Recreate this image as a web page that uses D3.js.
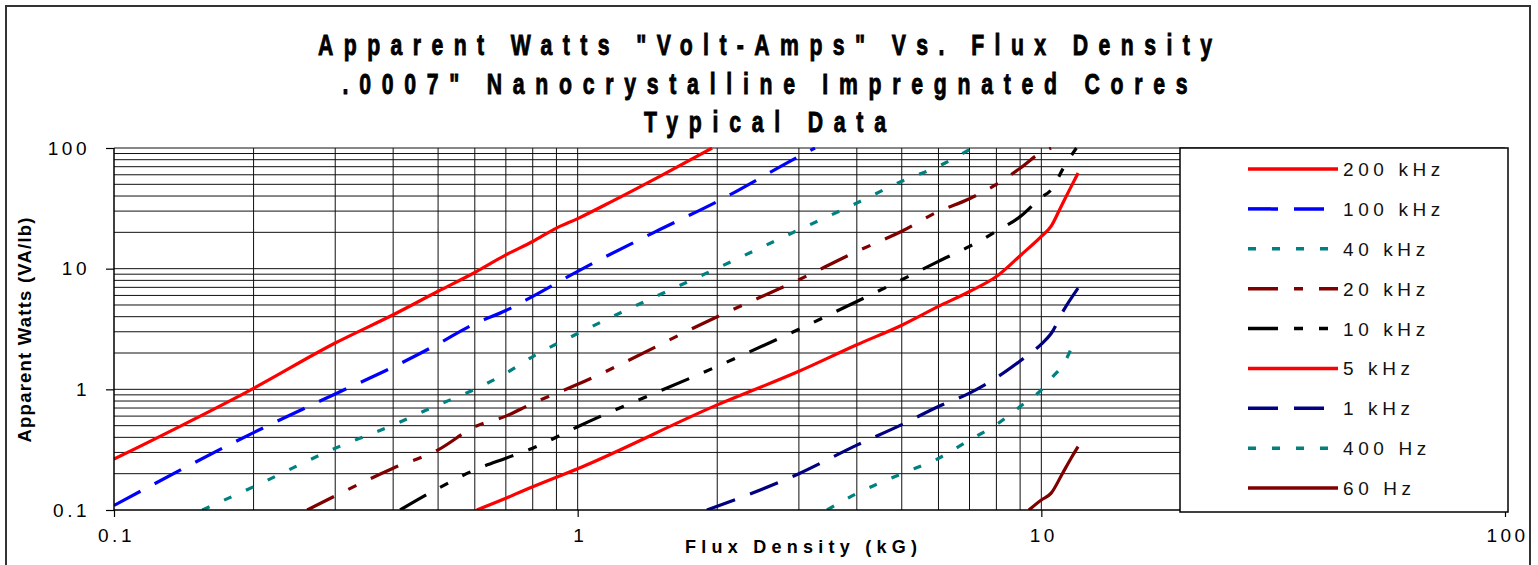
<!DOCTYPE html>
<html>
<head>
<meta charset="utf-8">
<script src="https://cdn.jsdelivr.net/npm/d3@7"></script>
<style>
  html, body { margin: 0; padding: 0; background: #fff; }
  svg { display: block; }
</style>
</head>
<body>
<svg id="chart" width="1538" height="565"></svg>
<script>
// ---------------- DATA ----------------
const titleLines = ['Apparent Watts "Volt-Amps" Vs. Flux Density', '.0007" Nanocrystalline Impregnated Cores', 'Typical Data'];
const xAxisTitle = "Flux Density (kG)";
const yAxisTitle = "Apparent Watts (VA/lb)";
const tickValues = [0.1, 1, 10, 100];
const tickLabels = ["0.1", "1", "10", "100"];
const seriesNames = ["200 kHz", "100 kHz", "40 kHz", "20 kHz", "10 kHz", "5 kHz", "1 kHz", "400 Hz", "60 Hz"];

// [flux density kG, VA/lb]
const data200k = [[0.1,0.264],[0.2,1.02],[0.3,2.42],[0.4,4.15],[0.5,6.5],[0.6,9.3],[0.7,13],[0.8,16.8],[0.9,21.7],[1,26],[1.2,37],[1.5,58],[1.95,100]];
const data100k = [[0.1,0.109],[0.2,0.438],[0.3,0.916],[0.4,1.53],[0.5,2.38],[0.6,3.5],[0.7,4.5],[0.8,5.9],[1,9.5],[1.5,21],[2,36],[3,85],[3.25,100]];
const data40k  = [[0.155,0.1],[0.2,0.156],[0.3,0.325],[0.4,0.507],[0.5,0.743],[0.6,1.0],[0.7,1.36],[0.8,1.87],[1,2.9],[2,10.1],[3,21],[4,35],[5,53],[6,70.5],[7.1,100]];
const data20k  = [[0.261,0.1],[0.3,0.131],[0.4,0.222],[0.5,0.315],[0.6,0.49],[0.7,0.6],[0.8,0.767],[1,1.1],[2,4.0],[3,8.1],[4,13.9],[5,20.4],[6,29.8],[7,38],[8,50],[9,68],[10,92],[10.5,100]];
const data10k  = [[0.414,0.1],[0.5,0.151],[0.6,0.215],[0.7,0.269],[0.8,0.325],[1,0.49],[2,1.55],[3,3.15],[4,5.35],[5,8.1],[6,11.5],[7,15.3],[8,20.4],[9,27],[10,39],[10.5,45],[11.2,70],[11.9,100]];
const data5k   = [[0.606,0.1],[0.7,0.125],[0.8,0.156],[1,0.22],[2,0.743],[3,1.41],[4,2.34],[5,3.4],[6,4.87],[7,6.47],[8,8.6],[9,12.8],[10,18.5],[10.5,22.5],[11,32],[11.5,45],[12,62]];
const data1k   = [[1.9,0.1],[3,0.2],[4,0.345],[5,0.51],[6,0.72],[7,0.93],[8,1.25],[9,1.72],[10,2.37],[10.5,2.9],[11.2,4.6],[12,6.9]];
const data400  = [[3.45,0.1],[4,0.137],[5,0.2],[6,0.268],[7,0.38],[8,0.51],[9,0.72],[10,0.99],[10.6,1.28],[11.2,1.65],[11.7,2.35]];
const data60   = [[9.4,0.1],[10,0.121],[10.5,0.138],[11.1,0.2],[11.6,0.27],[12,0.335]];
const seriesData = [data200k, data100k, data40k, data20k, data10k, data5k, data1k, data400, data60];

(function () {
// ---------------- STYLE ----------------
const styles = [
  {color: "#FF0000", dash: null},
  {color: "#0000FF", dash: "30,16"},
  {color: "#008080", dash: "8,16"},
  {color: "#800000", dash: "30,16,9,16"},
  {color: "#000000", dash: "30,16,9,16,9,16"},
  {color: "#FF0000", dash: null},
  {color: "#000080", dash: "30,16"},
  {color: "#008080", dash: "8,16"},
  {color: "#800000", dash: null}
];

const svg = d3.select("#chart");
const pL = 114, pR = 1505, pT = 148, pB = 510;

const x = d3.scaleLog().domain([0.1, 100]).range([pL, pR]);
const y = d3.scaleLog().domain([0.1, 100]).range([pB, pT]);

// outer border
svg.append("rect").attr("x", 6).attr("y", 6).attr("width", 1524).attr("height", 600)
  .attr("fill", "#fff").attr("stroke", "#333").attr("stroke-width", 2);

// title (narrow bold glyphs, widely spaced)
const titleY = [55, 94, 132];
const titleW = [894, 845, 242];
const sx = 0.72;
titleLines.forEach((t, i) => {
  svg.append("text")
    .attr("transform", `translate(765,${titleY[i]}) scale(${sx},1)`)
    .attr("text-anchor", "middle")
    .attr("font-family", "'Liberation Sans', Arial, sans-serif")
    .attr("font-weight", "bold").attr("font-size", 29.5)
    .attr("stroke", "#000").attr("stroke-width", 0.9)
    .attr("textLength", titleW[i] / sx).attr("lengthAdjust", "spacing")
    .text(t);
});

// grid values
const minorVals = [];
[0.1, 1, 10].forEach(d => {
  for (let k = 1; k <= 9; k++) minorVals.push(+(d * k).toPrecision(3));
});
minorVals.push(100);

const grid = svg.append("g");
grid.selectAll("line.h").data(minorVals.filter(v => v > 0.1)).enter().append("line")
  .attr("class", "h")
  .attr("x1", pL).attr("x2", pR)
  .attr("y1", d => y(d)).attr("y2", d => y(d))
  .attr("stroke", "#111").attr("stroke-width", 1);
grid.selectAll("line.v").data(minorVals.filter(v => v > 0.1 && v < 100)).enter().append("line")
  .attr("class", "v")
  .attr("x1", d => x(d)).attr("x2", d => x(d))
  .attr("y1", pT).attr("y2", pB)
  .attr("stroke", "#111").attr("stroke-width", 1);

// series lines
svg.append("clipPath").attr("id", "plotclip")
  .append("rect").attr("x", pL).attr("y", pT - 1).attr("width", pR - pL).attr("height", pB - pT + 1);
const line = d3.line().x(d => x(d[0])).y(d => y(d[1])).curve(d3.curveMonotoneX);
const lines = svg.append("g").attr("clip-path", "url(#plotclip)");
seriesData.forEach((s, i) => {
  lines.append("path").datum(s)
    .attr("d", line)
    .attr("fill", "none")
    .attr("stroke", styles[i].color)
    .attr("stroke-width", 3.2)
    .attr("stroke-dasharray", styles[i].dash)
    .attr("stroke-linejoin", "round");
});

// axes
const xAxis = d3.axisBottom(x).tickValues(tickValues).tickFormat((d, i) => tickLabels[i]).tickSize(7).tickPadding(12);
const yAxis = d3.axisLeft(y).tickValues(tickValues).tickFormat((d, i) => tickLabels[i]).tickSize(8).tickPadding(16);

const gx = svg.append("g").attr("transform", `translate(0,${pB})`).call(xAxis);
const gy = svg.append("g").attr("transform", `translate(${pL},0)`).call(yAxis);
[gx, gy].forEach(g => {
  g.select(".domain").attr("stroke", "#000").attr("stroke-width", 1.5);
  g.selectAll(".tick line").attr("stroke", "#000").attr("stroke-width", 1.2);
  g.selectAll(".tick text")
    .attr("font-family", "'Liberation Sans', Arial, sans-serif")
    .attr("font-size", 19).attr("fill", "#000")
    .attr("letter-spacing", 3.5);
});
gx.select(".domain").attr("d", `M${pL},0H${pR}`);
gy.select(".domain").attr("d", `M0,${pB}V${pT}`);
gx.selectAll(".tick text").attr("dx", 2);

// legend
const lg = svg.append("g");
lg.append("rect").attr("x", 1180).attr("y", 148).attr("width", 328).attr("height", 364)
  .attr("fill", "#fff").attr("stroke", "#000").attr("stroke-width", 1.5);
const legendRowY = d3.scaleLinear().domain([0, seriesNames.length - 1]).range([169, 488]);
seriesNames.forEach((n, i) => {
  const ly = legendRowY(i);
  lg.append("line").attr("x1", 1248).attr("x2", 1338).attr("y1", ly).attr("y2", ly)
    .attr("stroke", styles[i].color).attr("stroke-width", 3.5)
    .attr("stroke-dasharray", styles[i].dash);
  lg.append("text").attr("x", 1343).attr("y", ly + 7)
    .attr("font-family", "'Liberation Sans', Arial, sans-serif")
    .attr("font-size", 19).attr("letter-spacing", 4.6)
    .attr("fill", "#111")
    .text(n);
});

// axis titles
svg.append("text")
  .attr("x", 801).attr("y", 553).attr("text-anchor", "middle")
  .attr("font-family", "'Liberation Sans', Arial, sans-serif")
  .attr("font-weight", "bold").attr("font-size", 18)
  .attr("textLength", 232).attr("lengthAdjust", "spacing")
  .text(xAxisTitle);

svg.append("text")
  .attr("transform", "translate(31,330) rotate(-90)")
  .attr("text-anchor", "middle")
  .attr("font-family", "'Liberation Sans', Arial, sans-serif")
  .attr("font-weight", "bold").attr("font-size", 18.5)
  .attr("textLength", 225).attr("lengthAdjust", "spacing")
  .text(yAxisTitle);
})();
</script>
</body>
</html>
